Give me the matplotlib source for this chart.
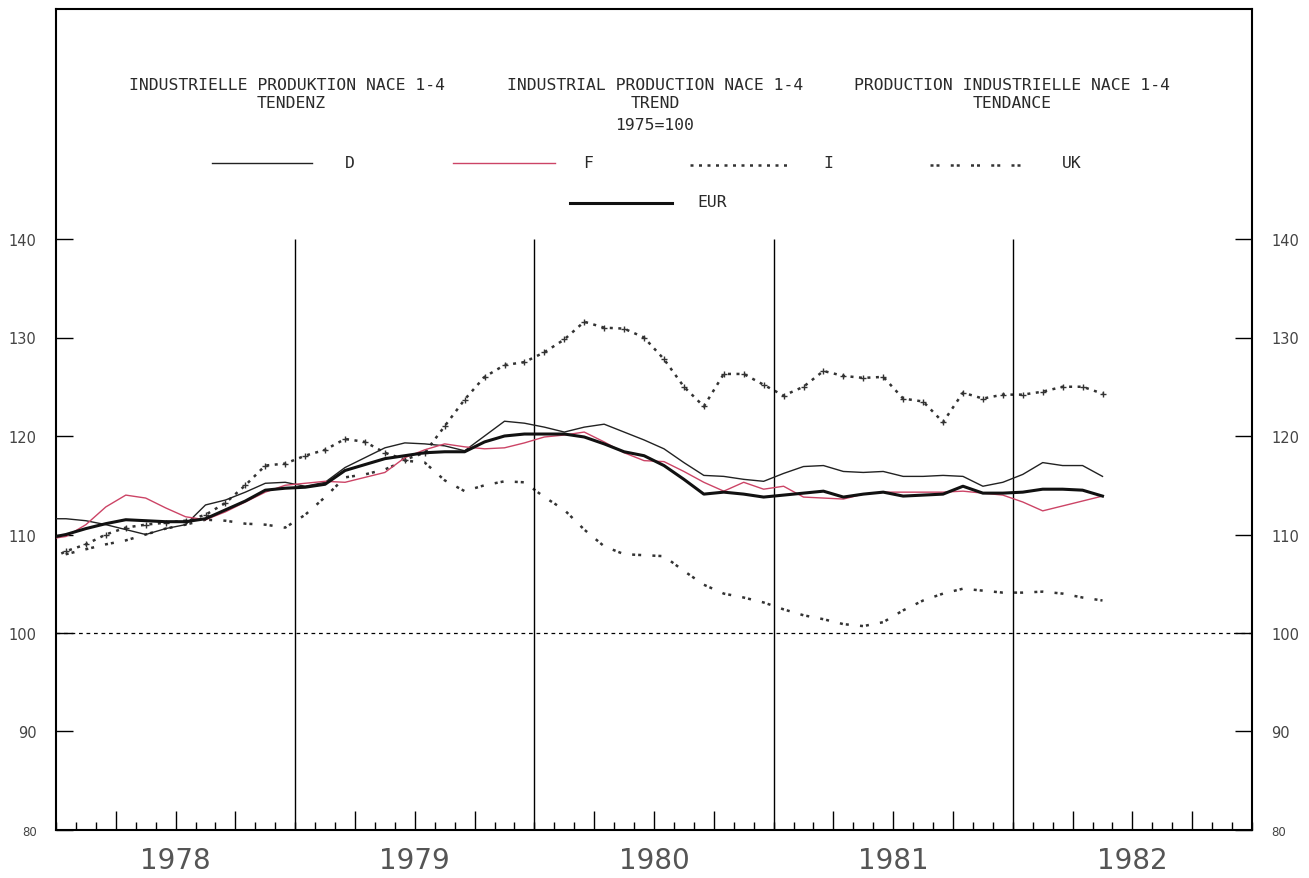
import numpy as np
import matplotlib.pyplot as plt
from matplotlib.lines import Line2D

# months from Dec 1977 (-1) to May 1982 (52), plotted mid-month
months = np.arange(-1, 53)

D = [111.6, 111.6, 111.4, 111.0, 110.5, 110.0, 110.6, 111.0, 113.0, 113.5, 114.3, 115.2, 115.3, 114.9,
     115.3, 116.8, 117.8, 118.8, 119.3, 119.2, 119.0, 118.5, 120.0, 121.5, 121.3, 120.9,
     120.4, 120.9, 121.2, 120.4, 119.6, 118.7, 117.3, 116.0, 115.9, 115.6, 115.4,
     116.2, 116.9, 117.0, 116.4, 116.3, 116.4, 115.9, 115.9, 116.0, 115.9, 114.9, 115.3,
     116.1, 117.3, 117.0, 117.0, 115.9]
F = [109.5, 109.8, 111.0, 112.8, 114.0, 113.7, 112.7, 111.8, 111.5, 112.3, 113.3, 114.3, 115.0, 115.2,
     115.4, 115.3, 115.8, 116.3, 117.8, 118.6, 119.2, 118.9, 118.7, 118.8, 119.3, 119.9,
     120.1, 120.4, 119.4, 118.3, 117.5, 117.4, 116.4, 115.3, 114.4, 115.3, 114.6,
     114.9, 113.8, 113.7, 113.6, 114.1, 114.3, 114.3, 114.3, 114.3, 114.4, 114.2, 114.0,
     113.3, 112.4, 112.9, 113.4, 113.9]
I = [107.3, 108.3, 109.0, 110.0, 110.7, 111.0, 111.2, 111.4, 112.0, 113.2, 115.0, 117.0, 117.2, 118.0,
     118.6, 119.7, 119.4, 118.3, 117.6, 118.3, 121.0, 123.7, 126.0, 127.2, 127.5, 128.5,
     129.8, 131.6, 131.0, 130.9, 130.0, 127.8, 125.0, 123.0, 126.3, 126.3, 125.2,
     124.1, 125.0, 126.6, 126.1, 125.9, 126.0, 123.8, 123.5, 121.4, 124.4, 123.8, 124.2,
     124.2, 124.5, 125.0, 125.0, 124.3]
UK = [107.5, 108.0, 108.5, 109.0, 109.4, 110.0, 110.6, 111.0, 111.5, 111.4, 111.1, 111.0, 110.7, 112.0,
      113.8, 115.8, 116.1, 116.6, 117.5, 117.3, 115.5, 114.4, 115.0, 115.4, 115.3, 113.8,
      112.5, 110.5, 108.8, 108.0, 107.9, 107.8, 106.3, 104.9, 104.0, 103.6, 103.1,
      102.4, 101.8, 101.4, 100.9, 100.7, 101.1, 102.3, 103.3, 104.0, 104.5, 104.3, 104.1,
      104.1, 104.2, 104.0, 103.6, 103.3]
EUR = [109.6, 110.0, 110.6, 111.1, 111.5, 111.4, 111.3, 111.3, 111.6, 112.5, 113.4, 114.5, 114.7, 114.8,
       115.1, 116.5, 117.1, 117.7, 118.0, 118.3, 118.4, 118.4, 119.4, 120.0, 120.2, 120.2,
       120.2, 119.9, 119.2, 118.4, 118.0, 117.0, 115.6, 114.1, 114.3, 114.1, 113.8,
       114.0, 114.2, 114.4, 113.8, 114.1, 114.3, 113.9, 114.0, 114.1, 114.9, 114.2, 114.2,
       114.3, 114.6, 114.6, 114.5, 113.9]

years = [1978, 1979, 1980, 1981, 1982]
yticks = [80, 90, 100, 110, 120, 130, 140]

x = 1978 + (months + 0.5) / 12

W, H = 1309, 879
fig = plt.figure(figsize=(W / 100, H / 100), dpi=100)
ax = fig.add_axes([56 / W, 48 / H, 1196 / W, 821 / H])

red = '#cc4466'
ink = '#222222'
dot = '#333333'
i_style = (0, (1.2, 2.2))
uk_style = (0, (1.2, 1.2, 1.2, 4.5))

ax.plot(x, D, color=ink, lw=1.0, zorder=3)
ax.plot(x, F, color=red, lw=1.0, zorder=3)
ax.plot(x, EUR, color='#111111', lw=2.2, zorder=4)
ax.plot(x, I, color=dot, lw=1.8, ls=i_style, zorder=2)
ax.plot(x, I, ls='none', marker='+', ms=4.5, mew=1.0, color=dot, zorder=2)
ax.plot(x, UK, color=dot, lw=1.8, ls=uk_style, zorder=2)

# year separators and 100 baseline
ax.vlines(years[1:], 80, 140, color='black', lw=1.0)
ax.axhline(100, color='black', lw=0.9, ls=(0, (3, 3)))

ax.set_xlim(1978, 1983)
ax.set_ylim(80, 140 + 230 / 9.85)

for s in ax.spines.values():
    s.set_linewidth(1.5)

ax.set_yticks(yticks)
ax.set_yticklabels([str(v) for v in yticks])
ax.tick_params(axis='y', direction='in', length=12, width=1.0, left=True, right=True,
               labelleft=True, labelright=True, labelsize=10.5, labelcolor='#444444', pad=14)
for lab in ax.get_yticklabels(which='both'):
    if lab.get_text() == '80':
        lab.set_fontsize(8.5)

ax.set_xticks([1978 + q / 4 for q in range(21) if q % 4 != 0])
ax.set_xticks([1978 + m / 12 for m in range(61)], minor=True)
ax.tick_params(axis='x', which='major', direction='in', length=14, width=1.0, labelbottom=False)
ax.tick_params(axis='x', which='minor', direction='in', length=5.5, width=1.0)

for yr in years:
    ax.text(yr + 0.5, -0.036, str(yr), transform=ax.get_xaxis_transform(),
            ha='center', va='center', fontsize=20, color='#555555')

# header texts
mono = dict(family='DejaVu Sans Mono', fontsize=11.8, color='#2a2a2a', ha='center', va='center')
def ftext(px, py, s, **kw):
    fig.text(px / W, 1 - py / H, s, **kw)

ftext(287, 85, 'INDUSTRIELLE PRODUKTION NACE 1-4', **mono)
ftext(291, 104, 'TENDENZ', **mono)
ftext(655, 85, 'INDUSTRIAL PRODUCTION NACE 1-4', **mono)
ftext(655, 104, 'TREND', **mono)
ftext(655, 125, '1975=100', **mono)
ftext(1012, 85, 'PRODUCTION INDUSTRIELLE NACE 1-4', **mono)
ftext(1012, 104, 'TENDANCE', **mono)

# legend
def fline(x0, x1, py, **kw):
    fig.add_artist(Line2D([x0 / W, x1 / W], [1 - py / H, 1 - py / H], transform=fig.transFigure, **kw))

fline(212, 312, 164, color=ink, lw=1.0)
ftext(350, 163, 'D', **mono)
fline(453, 555, 164, color=red, lw=1.0)
ftext(588, 163, 'F', **mono)
fline(690, 790, 166, color=dot, lw=1.8, ls=i_style)
ftext(828, 163, 'I', **mono)
fline(930, 1022, 166, color=dot, lw=1.8, ls=uk_style)
ftext(1072, 163, 'UK', **mono)
fline(570, 672, 204, color='#111111', lw=2.2)
ftext(712, 203, 'EUR', **mono)

fig.savefig('out.png', dpi=100, facecolor='white')
